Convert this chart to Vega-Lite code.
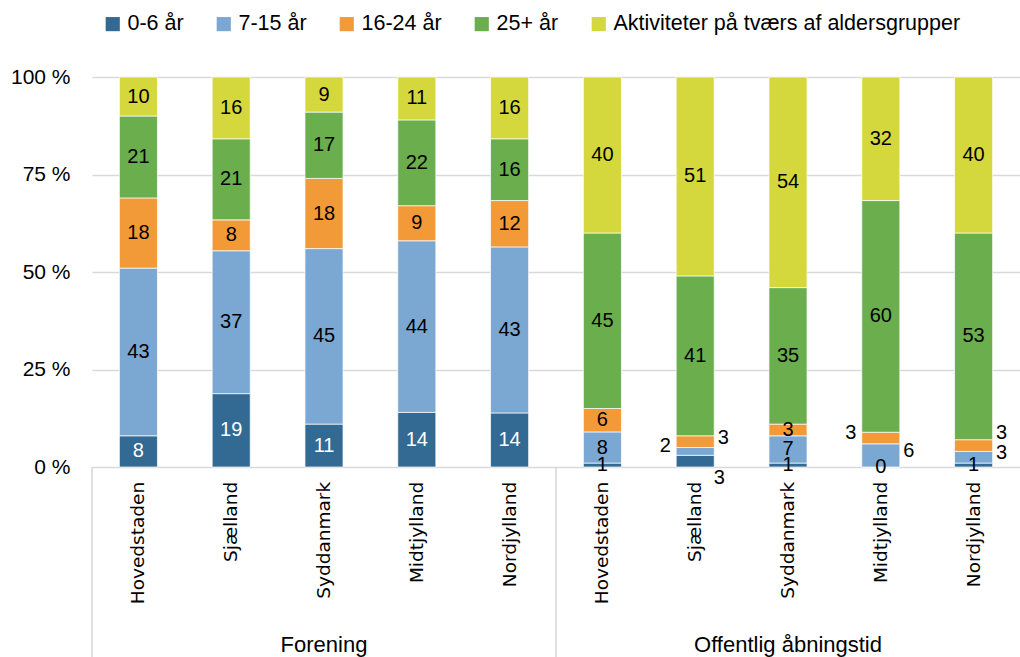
{
  "$schema": "https://vega.github.io/schema/vega-lite/v6.json",
  "padding": {"left": 10, "top": 13, "right": 0, "bottom": 0},
  "background": "white",
  "width": 928,
  "height": 390,
  "config": {
    "view": {"stroke": null},
    "font": "Liberation Sans",
    "text": {"font": "Liberation Sans"}
  },
  "data": {"values": [
    {"group": "Forening", "region": "Hovedstaden", "age": "0-6 år", "k": 0, "value": 8},
    {"group": "Forening", "region": "Hovedstaden", "age": "7-15 år", "k": 1, "value": 43},
    {"group": "Forening", "region": "Hovedstaden", "age": "16-24 år", "k": 2, "value": 18},
    {"group": "Forening", "region": "Hovedstaden", "age": "25+ år", "k": 3, "value": 21},
    {"group": "Forening", "region": "Hovedstaden", "age": "Aktiviteter på tværs af aldersgrupper", "k": 4, "value": 10},
    {"group": "Forening", "region": "Sjælland", "age": "0-6 år", "k": 0, "value": 19},
    {"group": "Forening", "region": "Sjælland", "age": "7-15 år", "k": 1, "value": 37},
    {"group": "Forening", "region": "Sjælland", "age": "16-24 år", "k": 2, "value": 8},
    {"group": "Forening", "region": "Sjælland", "age": "25+ år", "k": 3, "value": 21},
    {"group": "Forening", "region": "Sjælland", "age": "Aktiviteter på tværs af aldersgrupper", "k": 4, "value": 16},
    {"group": "Forening", "region": "Syddanmark", "age": "0-6 år", "k": 0, "value": 11},
    {"group": "Forening", "region": "Syddanmark", "age": "7-15 år", "k": 1, "value": 45},
    {"group": "Forening", "region": "Syddanmark", "age": "16-24 år", "k": 2, "value": 18},
    {"group": "Forening", "region": "Syddanmark", "age": "25+ år", "k": 3, "value": 17},
    {"group": "Forening", "region": "Syddanmark", "age": "Aktiviteter på tværs af aldersgrupper", "k": 4, "value": 9},
    {"group": "Forening", "region": "Midtjylland", "age": "0-6 år", "k": 0, "value": 14},
    {"group": "Forening", "region": "Midtjylland", "age": "7-15 år", "k": 1, "value": 44},
    {"group": "Forening", "region": "Midtjylland", "age": "16-24 år", "k": 2, "value": 9},
    {"group": "Forening", "region": "Midtjylland", "age": "25+ år", "k": 3, "value": 22},
    {"group": "Forening", "region": "Midtjylland", "age": "Aktiviteter på tværs af aldersgrupper", "k": 4, "value": 11},
    {"group": "Forening", "region": "Nordjylland", "age": "0-6 år", "k": 0, "value": 14},
    {"group": "Forening", "region": "Nordjylland", "age": "7-15 år", "k": 1, "value": 43},
    {"group": "Forening", "region": "Nordjylland", "age": "16-24 år", "k": 2, "value": 12},
    {"group": "Forening", "region": "Nordjylland", "age": "25+ år", "k": 3, "value": 16},
    {"group": "Forening", "region": "Nordjylland", "age": "Aktiviteter på tværs af aldersgrupper", "k": 4, "value": 16},
    {"group": "Offentlig åbningstid", "region": "Hovedstaden", "age": "0-6 år", "k": 0, "value": 1},
    {"group": "Offentlig åbningstid", "region": "Hovedstaden", "age": "7-15 år", "k": 1, "value": 8},
    {"group": "Offentlig åbningstid", "region": "Hovedstaden", "age": "16-24 år", "k": 2, "value": 6},
    {"group": "Offentlig åbningstid", "region": "Hovedstaden", "age": "25+ år", "k": 3, "value": 45},
    {"group": "Offentlig åbningstid", "region": "Hovedstaden", "age": "Aktiviteter på tværs af aldersgrupper", "k": 4, "value": 40},
    {"group": "Offentlig åbningstid", "region": "Sjælland", "age": "0-6 år", "k": 0, "value": 3},
    {"group": "Offentlig åbningstid", "region": "Sjælland", "age": "7-15 år", "k": 1, "value": 2},
    {"group": "Offentlig åbningstid", "region": "Sjælland", "age": "16-24 år", "k": 2, "value": 3},
    {"group": "Offentlig åbningstid", "region": "Sjælland", "age": "25+ år", "k": 3, "value": 41},
    {"group": "Offentlig åbningstid", "region": "Sjælland", "age": "Aktiviteter på tværs af aldersgrupper", "k": 4, "value": 51},
    {"group": "Offentlig åbningstid", "region": "Syddanmark", "age": "0-6 år", "k": 0, "value": 1},
    {"group": "Offentlig åbningstid", "region": "Syddanmark", "age": "7-15 år", "k": 1, "value": 7},
    {"group": "Offentlig åbningstid", "region": "Syddanmark", "age": "16-24 år", "k": 2, "value": 3},
    {"group": "Offentlig åbningstid", "region": "Syddanmark", "age": "25+ år", "k": 3, "value": 35},
    {"group": "Offentlig åbningstid", "region": "Syddanmark", "age": "Aktiviteter på tværs af aldersgrupper", "k": 4, "value": 54},
    {"group": "Offentlig åbningstid", "region": "Midtjylland", "age": "0-6 år", "k": 0, "value": 0},
    {"group": "Offentlig åbningstid", "region": "Midtjylland", "age": "7-15 år", "k": 1, "value": 6},
    {"group": "Offentlig åbningstid", "region": "Midtjylland", "age": "16-24 år", "k": 2, "value": 3},
    {"group": "Offentlig åbningstid", "region": "Midtjylland", "age": "25+ år", "k": 3, "value": 60},
    {"group": "Offentlig åbningstid", "region": "Midtjylland", "age": "Aktiviteter på tværs af aldersgrupper", "k": 4, "value": 32},
    {"group": "Offentlig åbningstid", "region": "Nordjylland", "age": "0-6 år", "k": 0, "value": 1},
    {"group": "Offentlig åbningstid", "region": "Nordjylland", "age": "7-15 år", "k": 1, "value": 3},
    {"group": "Offentlig åbningstid", "region": "Nordjylland", "age": "16-24 år", "k": 2, "value": 3},
    {"group": "Offentlig åbningstid", "region": "Nordjylland", "age": "25+ år", "k": 3, "value": 53},
    {"group": "Offentlig åbningstid", "region": "Nordjylland", "age": "Aktiviteter på tværs af aldersgrupper", "k": 4, "value": 40}
  ]},
  "layer": [
    {
      "mark": {"type": "bar", "stroke": "white", "strokeWidth": 0.7},
      "encoding": {
        "x": {"field": "group", "type": "nominal", "scale": {"paddingInner": 0, "paddingOuter": 0},
          "axis": {"title": null, "domain": false, "ticks": false, "labelFontSize": 22, "labelColor": "black", "labelPadding": 167, "labelAngle": 0, "labelLimit": 500}},
        "xOffset": {"field": "region", "type": "nominal", "sort": ["Hovedstaden", "Sjælland", "Syddanmark", "Midtjylland", "Nordjylland"], "scale": {"paddingInner": 0.59, "paddingOuter": 0.295}},
        "y": {
          "field": "value", "type": "quantitative", "stack": "normalize",
          "scale": {"domain": [0, 1]},
          "axis": {"title": null, "values": [0, 0.25, 0.5, 0.75, 1], "labelExpr": "round(datum.value*100) + ' %'", "labelFontSize": 21, "labelColor": "black", "labelPadding": 22, "domain": false, "ticks": false, "gridColor": "#d9d9d9", "gridWidth": 1.3}
        },
        "color": {
          "field": "age", "type": "nominal",
          "scale": {
            "domain": ["0-6 år", "7-15 år", "16-24 år", "25+ år", "Aktiviteter på tværs af aldersgrupper"],
            "range": ["#326a93", "#7ba7d3", "#f29a38", "#6aae4d", "#d4d83c"]
          },
          "legend": {"title": null, "orient": "none", "direction": "horizontal", "legendX": 10, "legendY": -64, "symbolType": "square", "symbolSize": 200, "symbolStrokeWidth": 0, "labelFontSize": 21.5, "labelColor": "black", "columnPadding": 29, "labelOffset": 4, "labelLimit": 500}
        },
        "order": {"field": "k", "type": "quantitative"}
      }
    },
    {
      "mark": {"type": "text", "fontSize": 20, "baseline": "middle"},
      "encoding": {
        "x": {"field": "group", "type": "nominal"},
        "xOffset": {"field": "region", "type": "nominal", "sort": ["Hovedstaden", "Sjælland", "Syddanmark", "Midtjylland", "Nordjylland"]},
        "y": {"field": "value", "type": "quantitative", "stack": "normalize", "bandPosition": 0.5},
        "text": {"condition": {"test": "!(datum.group == 'Offentlig åbningstid' && ((datum.region == 'Sjælland' && datum.k <= 2) || (datum.region == 'Midtjylland' && (datum.k == 1 || datum.k == 2)) || (datum.region == 'Nordjylland' && (datum.k == 1 || datum.k == 2))))", "field": "value", "type": "quantitative"}, "value": ""},
        "detail": {"field": "age"},
        "order": {"field": "k", "type": "quantitative"},
        "color": {"condition": {"test": "datum.k == 0 && datum.value >= 5", "value": "white"}, "value": "black"}
      }
    },
    {
      "mark": {"type": "text", "fontSize": 20, "baseline": "middle", "dx": 28, "dy": -4, "color": "black"},
      "encoding": {
        "x": {"field": "group", "type": "nominal"},
        "xOffset": {"field": "region", "type": "nominal", "sort": ["Hovedstaden", "Sjælland", "Syddanmark", "Midtjylland", "Nordjylland"]},
        "y": {"field": "value", "type": "quantitative", "stack": "normalize", "bandPosition": 0.5},
        "text": {"condition": {"test": "datum.group == 'Offentlig åbningstid' && ((datum.k == 1 && (datum.region == 'Midtjylland' || datum.region == 'Nordjylland')) || (datum.k == 2 && datum.region == 'Sjælland'))", "field": "value", "type": "quantitative"}, "value": ""},
        "detail": {"field": "age"},
        "order": {"field": "k", "type": "quantitative"}
      }
    },
    {
      "mark": {"type": "text", "fontSize": 20, "baseline": "middle", "dx": 28, "dy": -13, "color": "black"},
      "encoding": {
        "x": {"field": "group", "type": "nominal"},
        "xOffset": {"field": "region", "type": "nominal", "sort": ["Hovedstaden", "Sjælland", "Syddanmark", "Midtjylland", "Nordjylland"]},
        "y": {"field": "value", "type": "quantitative", "stack": "normalize", "bandPosition": 0.5},
        "text": {"condition": {"test": "datum.group == 'Offentlig åbningstid' && datum.k == 2 && datum.region == 'Nordjylland'", "field": "value", "type": "quantitative"}, "value": ""},
        "detail": {"field": "age"},
        "order": {"field": "k", "type": "quantitative"}
      }
    },
    {
      "mark": {"type": "text", "fontSize": 20, "baseline": "middle", "dx": -30, "dy": -5, "color": "black"},
      "encoding": {
        "x": {"field": "group", "type": "nominal"},
        "xOffset": {"field": "region", "type": "nominal", "sort": ["Hovedstaden", "Sjælland", "Syddanmark", "Midtjylland", "Nordjylland"]},
        "y": {"field": "value", "type": "quantitative", "stack": "normalize", "bandPosition": 0.5},
        "text": {"condition": {"test": "datum.group == 'Offentlig åbningstid' && ((datum.region == 'Sjælland' && datum.k == 1) || (datum.region == 'Midtjylland' && datum.k == 2))", "field": "value", "type": "quantitative"}, "value": ""},
        "detail": {"field": "age"},
        "order": {"field": "k", "type": "quantitative"}
      }
    },
    {
      "mark": {"type": "text", "fontSize": 20, "baseline": "middle", "dx": 24, "dy": 17, "color": "black"},
      "encoding": {
        "x": {"field": "group", "type": "nominal"},
        "xOffset": {"field": "region", "type": "nominal", "sort": ["Hovedstaden", "Sjælland", "Syddanmark", "Midtjylland", "Nordjylland"]},
        "y": {"field": "value", "type": "quantitative", "stack": "normalize", "bandPosition": 0.5},
        "text": {"condition": {"test": "datum.group == 'Offentlig åbningstid' && datum.region == 'Sjælland' && datum.k == 0", "field": "value", "type": "quantitative"}, "value": ""},
        "detail": {"field": "age"},
        "order": {"field": "k", "type": "quantitative"}
      }
    },
    {
      "transform": [{"filter": "datum.k == 0"}],
      "mark": {"type": "text", "font": "DejaVu Sans", "fontSize": 18.5, "angle": 270, "align": "right", "baseline": "middle", "color": "black"},
      "encoding": {
        "x": {"field": "group", "type": "nominal"},
        "xOffset": {"field": "region", "type": "nominal", "sort": ["Hovedstaden", "Sjælland", "Syddanmark", "Midtjylland", "Nordjylland"]},
        "y": {"datum": -0.038, "type": "quantitative"},
        "text": {"field": "region", "type": "nominal"}
      }
    },
    {
      "transform": [{"filter": "datum.k == 0 && datum.region == 'Hovedstaden'"}],
      "mark": {"type": "rule", "color": "#d0d0d0", "strokeWidth": 1.3},
      "encoding": {
        "x": {"field": "group", "type": "nominal", "bandPosition": 0},
        "y": {"datum": 0, "type": "quantitative"},
        "y2": {"datum": -0.49}
      }
    }
  ]
}
